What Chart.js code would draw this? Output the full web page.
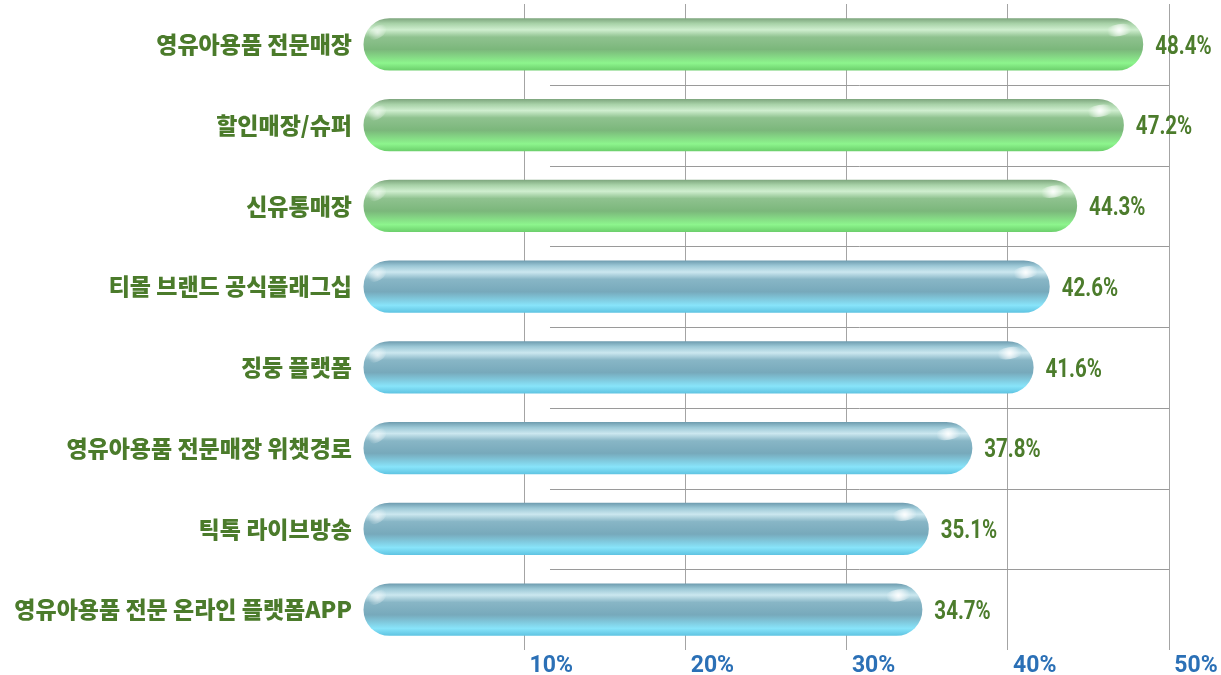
<!DOCTYPE html>
<html>
<head>
<meta charset="utf-8">
<script src="https://cdn.jsdelivr.net/npm/chart.js@4.4.1/dist/chart.umd.min.js"></script>
<style>
  html, body { margin: 0; padding: 0; background: #fff; }
  #wrap { width: 1221px; height: 675px; }
</style>
</head>
<body>
<div id="wrap"><canvas id="chart" width="1221" height="675"></canvas></div>
<script>
// chart data
const categories = [
  '영유아용품 전문매장',
  '할인매장/슈퍼',
  '신유통매장',
  '티몰 브랜드 공식플래그십',
  '징둥 플랫폼',
  '영유아용품 전문매장 위챗경로',
  '틱톡 라이브방송',
  '영유아용품 전문 온라인 플랫폼APP'
];
const shares = [48.4, 47.2, 44.3, 42.6, 41.6, 37.8, 35.1, 34.7];
const barGroup = ['green', 'green', 'green', 'blue', 'blue', 'blue', 'blue', 'blue'];
const tickValues = [10, 20, 30, 40, 50];

const narrow = "'Liberation Sans Narrow', 'Roboto', 'Noto Sans CJK KR', sans-serif";

// glossy vertical gradient for each pill
function barFill(context) {
  const chart = context.chart;
  if (!chart.chartArea) return '#80c080';
  const el = chart.getDatasetMeta(0).data[context.dataIndex];
  const yc = chart.scales.y.getPixelForValue(context.dataIndex);
  const h = el && el.height ? el.height : 52;
  const g = chart.ctx.createLinearGradient(0, yc - h / 2, 0, yc + h / 2);
  if (barGroup[context.dataIndex] === 'green') {
    g.addColorStop(0, '#7ea67e');
    g.addColorStop(0.1, '#a8d2a8');
    g.addColorStop(0.22, '#cfeecf');
    g.addColorStop(0.36, '#8fc28f');
    g.addColorStop(0.6, '#7bb77b');
    g.addColorStop(0.86, '#8df58d');
    g.addColorStop(1, '#6ccf6c');
  } else {
    g.addColorStop(0, '#6e9caf');
    g.addColorStop(0.1, '#9cc8d6');
    g.addColorStop(0.22, '#cbe7ef');
    g.addColorStop(0.36, '#88b6c6');
    g.addColorStop(0.6, '#77a9bb');
    g.addColorStop(0.86, '#88e4fa');
    g.addColorStop(1, '#5fc4e2');
  }
  return g;
}

// horizontal separator lines between the rows
const separators = {
  id: 'separators',
  beforeDatasetsDraw(chart) {
    const { ctx, scales } = chart;
    const x0 = scales.x.getPixelForValue(11.6);
    const x1 = scales.x.getPixelForValue(50);
    ctx.save();
    ctx.strokeStyle = '#9a9a9a';
    ctx.lineWidth = 1;
    for (let i = 0; i < categories.length - 1; i++) {
      const y = Math.round((scales.y.getPixelForValue(i) + scales.y.getPixelForValue(i + 1)) / 2) + 0.5;
      ctx.beginPath();
      ctx.moveTo(x0, y);
      ctx.lineTo(x1, y);
      ctx.stroke();
    }
    ctx.restore();
  }
};

// glint on the bar ends and value labels
const barExtras = {
  id: 'barExtras',
  afterDatasetsDraw(chart) {
    const { ctx } = chart;
    const meta = chart.getDatasetMeta(0);
    ctx.save();
    meta.data.forEach((bar, i) => {
      const top = bar.y - bar.height / 2;
      // glint
      const gx = bar.x - 24, gy = top + 12;
      const rg = ctx.createRadialGradient(gx, gy, 0, gx, gy, 12);
      rg.addColorStop(0, 'rgba(255,255,255,0.95)');
      rg.addColorStop(1, 'rgba(255,255,255,0)');
      ctx.fillStyle = rg;
      ctx.beginPath();
      ctx.ellipse(gx, gy, 14, 6, -0.15, 0, Math.PI * 2);
      ctx.fill();
      // left cap glint
      const lx = bar.base + 14, ly = top + 14;
      const lg = ctx.createRadialGradient(lx, ly, 0, lx, ly, 10);
      lg.addColorStop(0, 'rgba(255,255,255,0.6)');
      lg.addColorStop(1, 'rgba(255,255,255,0)');
      ctx.fillStyle = lg;
      ctx.beginPath();
      ctx.ellipse(lx, ly, 10, 6, -0.6, 0, Math.PI * 2);
      ctx.fill();
      // value label, slightly condensed
      ctx.save();
      ctx.translate(bar.x + 12, bar.y + 3);
      ctx.scale(0.82, 1);
      ctx.fillStyle = '#4c7c2c';
      ctx.font = 'bold 25px ' + narrow;
      ctx.textAlign = 'left';
      ctx.textBaseline = 'middle';
      ctx.fillText(shares[i].toFixed(1) + '%', 0, 0);
      ctx.restore();
    });
    ctx.restore();
  }
};

const chart = new Chart(document.getElementById('chart'), {
  type: 'bar',
  data: {
    labels: categories,
    datasets: [{
      data: shares,
      backgroundColor: barFill,
      borderWidth: 0,
      borderRadius: 26,
      borderSkipped: false,
      categoryPercentage: 1,
      barPercentage: 0.65
    }]
  },
  options: {
    indexAxis: 'y',
    responsive: false,
    animation: false,
    layout: { padding: { top: 4, right: 52, left: 0, bottom: 0 } },
    plugins: {
      legend: { display: false },
      tooltip: { enabled: false }
    },
    scales: {
      x: {
        min: 0,
        max: 50,
        z: 1,
        afterBuildTicks(scale) {
          scale.ticks = [0].concat(tickValues).map(v => ({ value: v }));
        },
        afterFit(scale) { scale.height = 25; },
        border: { display: false },
        grid: {
          drawTicks: false,
          color: ctx => ctx.tick && ctx.tick.value === 0 ? 'rgba(0,0,0,0)' : 'rgba(90,90,90,0.55)',
          lineWidth: 1
        },
        ticks: {
          padding: 2,
          labelOffset: 27,
          color: '#2b70b6',
          font: { family: narrow, size: 23, weight: 'bold' },
          callback: v => v === 0 ? '' : v + '%'
        }
      },
      y: {
        afterFit(scale) {
          scale.width = 363;
          scale.paddingTop = 0;
          scale.paddingBottom = 0;
        },
        border: { display: false },
        grid: { display: false, drawTicks: false },
        ticks: {
          padding: 11,
          color: '#4b7b2b',
          font: { family: "'Noto Sans CJK KR', sans-serif", size: 23, weight: '900' }
        }
      }
    }
  },
  plugins: [separators, barExtras]
});
</script>
</body>
</html>
